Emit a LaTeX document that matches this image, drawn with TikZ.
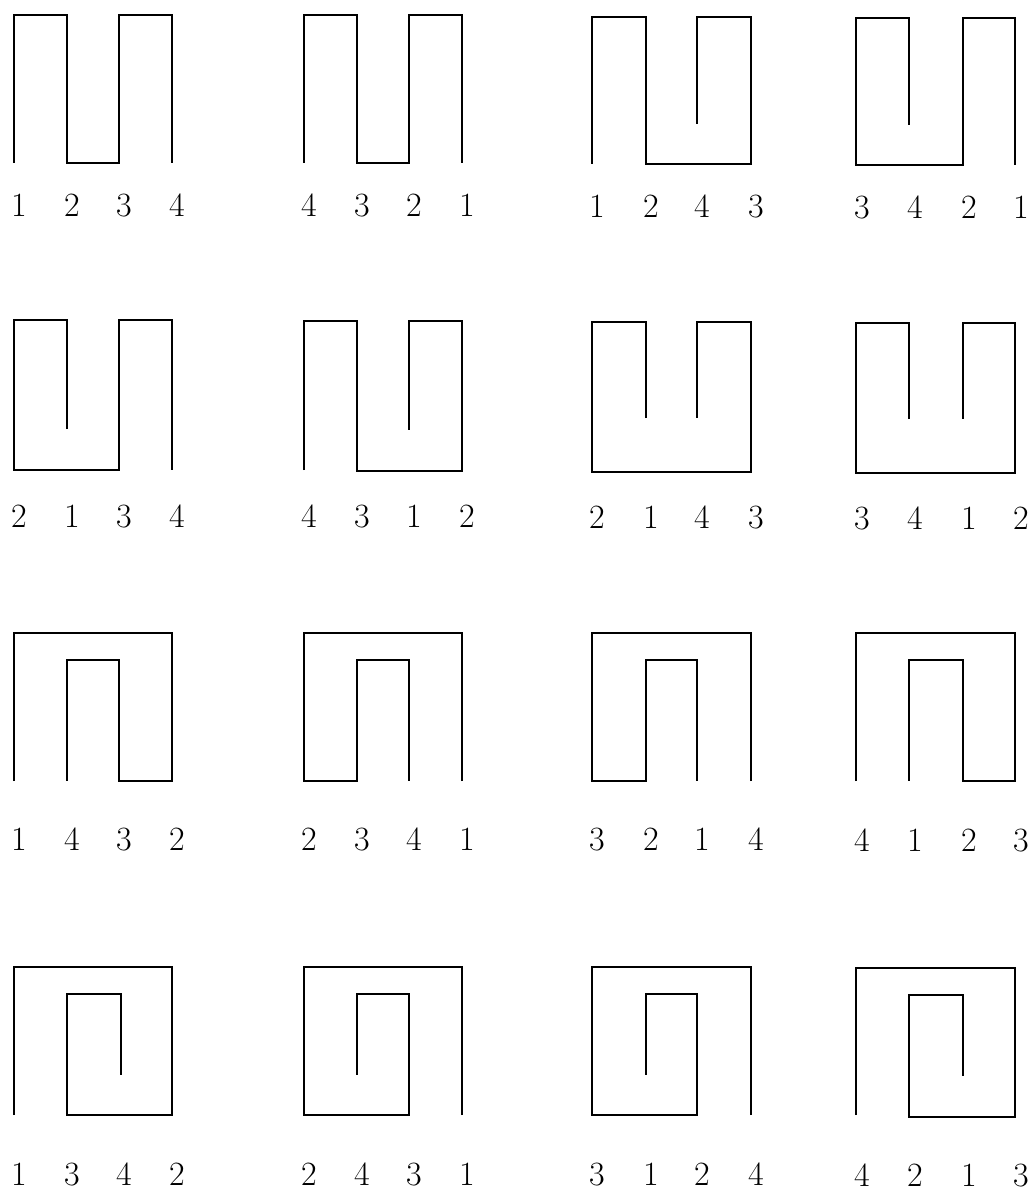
\documentclass[tikz,border=0pt]{standalone}
\begin{document}
\begin{tikzpicture}[x=0.5pt,y=-0.5pt,
  meander/.style={line width=1pt,line join=miter,line cap=butt},
  lab/.style={anchor=base,inner sep=0pt,font=\fontsize{17}{20}\selectfont}]
\useasboundingbox[fill=white] (0,0) rectangle (1033,1192);
% Row 1
\draw[meander] (14,163)--(14,15)--(67,15)--(67,163)--(119,163)--(119,15)--(172,15)--(172,163);
\draw[meander] (304,163)--(304,15)--(357,15)--(357,163)--(409,163)--(409,15)--(462,15)--(462,163);
\draw[meander] (592,164)--(592,17)--(646,17)--(646,164)--(751,164)--(751,17)--(697,17)--(697,124);
\draw[meander] (909,125)--(909,18)--(856,18)--(856,165)--(963,165)--(963,18)--(1015,18)--(1015,165);
% Row 2
\draw[meander] (67,429)--(67,320)--(14,320)--(14,470)--(119,470)--(119,320)--(172,320)--(172,470);
\draw[meander] (304,470)--(304,321)--(357,321)--(357,471)--(462,471)--(462,321)--(409,321)--(409,430);
\draw[meander] (646,418)--(646,322)--(592,322)--(592,472)--(751,472)--(751,322)--(697,322)--(697,418);
\draw[meander] (909,419)--(909,323)--(856,323)--(856,473)--(1015,473)--(1015,323)--(963,323)--(963,419);
% Row 3
\draw[meander] (14,781)--(14,633)--(172,633)--(172,781)--(119,781)--(119,660)--(67,660)--(67,781);
\draw[meander] (462,781)--(462,633)--(304,633)--(304,781)--(357,781)--(357,660)--(409,660)--(409,781);
\draw[meander] (751,781)--(751,633)--(592,633)--(592,781)--(646,781)--(646,660)--(697,660)--(697,781);
\draw[meander] (856,781)--(856,633)--(1015,633)--(1015,781)--(963,781)--(963,660)--(909,660)--(909,781);
% Row 4
\draw[meander] (14,1115)--(14,967)--(172,967)--(172,1115)--(67,1115)--(67,994)--(121,994)--(121,1075);
\draw[meander] (462,1115)--(462,967)--(304,967)--(304,1115)--(409,1115)--(409,994)--(357,994)--(357,1075);
\draw[meander] (751,1115)--(751,967)--(592,967)--(592,1115)--(697,1115)--(697,994)--(646,994)--(646,1075);
\draw[meander] (856,1115)--(856,968)--(1015,968)--(1015,1117)--(909,1117)--(909,995)--(963,995)--(963,1076);
% Labels row 1
\foreach \x/\t [count=\i] in {19/1,72/2,124/3,177/4} \node[lab] (a\i) at (\x,217) {\t};
\foreach \x/\t [count=\i] in {309/4,362/3,414/2,467/1} \node[lab] (b\i) at (\x,217) {\t};
\foreach \x/\t [count=\i] in {597/1,651/2,702/4,756/3} \node[lab] (c\i) at (\x,218) {\t};
\foreach \x/\t [count=\i] in {862/3,915/4,969/2,1021/1} \node[lab] (d\i) at (\x,219) {\t};
% Labels row 2
\foreach \x/\t [count=\i] in {19/2,72/1,124/3,177/4} \node[lab] (e\i) at (\x,527) {\t};
\foreach \x/\t [count=\i] in {309/4,362/3,414/1,467/2} \node[lab] (f\i) at (\x,527) {\t};
\foreach \x/\t [count=\i] in {597/2,651/1,702/4,756/3} \node[lab] (g\i) at (\x,528) {\t};
\foreach \x/\t [count=\i] in {862/3,915/4,969/1,1021/2} \node[lab] (h\i) at (\x,529) {\t};
% Labels row 3
\foreach \x/\t [count=\i] in {19/1,72/4,124/3,177/2} \node[lab] (i\i) at (\x,850) {\t};
\foreach \x/\t [count=\i] in {309/2,362/3,414/4,467/1} \node[lab] (j\i) at (\x,850) {\t};
\foreach \x/\t [count=\i] in {597/3,651/2,702/1,756/4} \node[lab] (k\i) at (\x,850) {\t};
\foreach \x/\t [count=\i] in {862/4,915/1,969/2,1021/3} \node[lab] (m\i) at (\x,851) {\t};
% Labels row 4
\foreach \x/\t [count=\i] in {19/1,72/3,124/4,177/2} \node[lab] (n\i) at (\x,1185) {\t};
\foreach \x/\t [count=\i] in {309/2,362/4,414/3,467/1} \node[lab] (o\i) at (\x,1185) {\t};
\foreach \x/\t [count=\i] in {597/3,651/1,702/2,756/4} \node[lab] (p\i) at (\x,1185) {\t};
\foreach \x/\t [count=\i] in {862/4,915/2,969/1,1021/3} \node[lab] (q\i) at (\x,1186) {\t};
\end{tikzpicture}
\end{document}
